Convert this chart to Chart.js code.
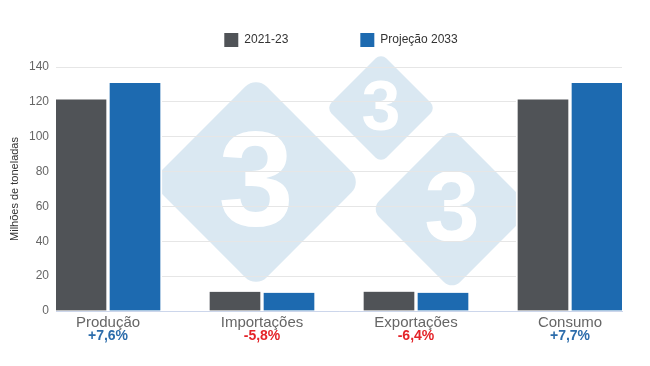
<!DOCTYPE html>
<html>
<head>
<meta charset="utf-8">
<script src="https://cdn.jsdelivr.net/npm/chart.js@4"></script>
<style>
  html, body { margin: 0; padding: 0; background: #fff; }
  #wrap { width: 650px; height: 366px; }
</style>
</head>
<body>
<div id="wrap"><canvas id="chart"></canvas></div>
<script>
const categories = ['Produção', 'Importações', 'Exportações', 'Consumo'];
const base = [121.4, 11.0, 11.1, 121.4];
const projection = [130.8, 10.4, 10.4, 130.8];
const changes = ['+7,6%', '-5,8%', '-6,4%', '+7,7%'];
const seriesNames = ['2021-23', 'Projeção 2033'];
const yTicks = [0, 20, 40, 60, 80, 100, 120, 140];

const GRAY = '#505357';
const BLUE = '#1d6ab0';
const FONT = '"Liberation Sans", Arial, sans-serif';

// logo watermark behind the grid
const watermark = {
  id: 'watermark',
  beforeDraw(chart) {
    const ctx = chart.ctx;
    ctx.save();
    ctx.fillStyle = '#fff';
    ctx.fillRect(0, 0, chart.width, chart.height);
    const marks = [
      { x: 256, y: 182, r: 106, font: 136 },
      { x: 381, y: 108, r: 55, font: 70 },
      { x: 452, y: 209, r: 81, font: 100 }
    ];
    marks.forEach(m => {
      const s = m.r * Math.SQRT2;
      ctx.save();
      ctx.translate(m.x, m.y);
      ctx.rotate(Math.PI / 4);
      ctx.fillStyle = '#dae8f2';
      ctx.beginPath();
      ctx.roundRect(-s / 2, -s / 2, s, s, s * 0.1);
      ctx.fill();
      ctx.restore();
      ctx.fillStyle = '#fff';
      ctx.font = 'bold ' + m.font + 'px ' + FONT;
      ctx.textAlign = 'center';
      ctx.textBaseline = 'middle';
      ctx.fillText('3', m.x, m.y + m.font * 0.04);
    });
    ctx.restore();
  }
};

// coloured change labels under each category
const changeLabels = {
  id: 'changeLabels',
  afterDraw(chart) {
    const ctx = chart.ctx;
    const xs = chart.scales.x;
    ctx.save();
    ctx.font = 'bold 14px ' + FONT;
    ctx.textAlign = 'center';
    ctx.textBaseline = 'middle';
    changes.forEach((txt, i) => {
      ctx.fillStyle = txt.startsWith('-') ? '#e42429' : '#2c6cab';
      ctx.fillText(txt, xs.getPixelForValue(i), 336);
    });
    ctx.restore();
  }
};

// legend: wide item gap but fixed block height, then nudged into place
const legendPlace = {
  id: 'legendPlace',
  beforeLayout(chart) {
    const lg = chart.legend;
    if (lg && !lg._fixed) {
      const fit = lg.fit.bind(lg);
      lg.fit = function () { fit(); this.height = 67; };
      lg._fixed = true;
    }
  },
  afterLayout(chart) {
    const lg = chart.legend;
    const pad = lg.options.labels.padding;
    lg.top = 33 - pad;
    lg.left += 30;
    lg.right += 30;
  }
};

const toPoints = arr => arr.map((v, i) => ({ x: i, y: v }));

new Chart(document.getElementById('chart'), {
  type: 'bar',
  data: {
    datasets: [
      {
        label: seriesNames[0],
        data: toPoints(base),
        backgroundColor: GRAY,
        borderColor: '#fff',
        borderWidth: { left: 2, right: 2, top: 0, bottom: 0 },
        borderSkipped: false
      },
      {
        label: seriesNames[1],
        data: toPoints(projection),
        backgroundColor: BLUE,
        borderColor: '#fff',
        borderWidth: { left: 2, right: 2, top: 0, bottom: 0 },
        borderSkipped: false
      }
    ]
  },
  options: {
    responsive: true,
    maintainAspectRatio: false,
    animation: false,
    barThickness: 54,
    layout: { padding: { left: 0, right: 28, top: 0, bottom: 0 } },
    plugins: {
      legend: {
        position: 'top',
        labels: {
          boxWidth: 14,
          boxHeight: 14,
          padding: 72,
          color: '#333',
          font: { size: 12, family: FONT },
          generateLabels(chart) {
            return chart.data.datasets.map((ds, i) => ({
              text: ds.label,
              fillStyle: ds.backgroundColor,
              strokeStyle: ds.backgroundColor,
              lineWidth: 0,
              fontColor: '#333',
              datasetIndex: i
            }));
          }
        }
      },
      tooltip: { enabled: false }
    },
    scales: {
      x: {
        type: 'linear',
        offset: false,
        min: -0.3377,
        max: 3.3377,
        afterBuildTicks(scale) {
          scale.ticks = categories.map((c, i) => ({ value: i }));
        },
        afterFit(scale) {
          scale.height = 55;
        },
        grid: { display: false, drawTicks: false },
        border: { color: '#ccd6eb', width: 1 },
        ticks: {
          padding: 3,
          color: '#666',
          font: { size: 15, family: FONT },
          callback: v => categories[v]
        }
      },
      y: {
        min: 0,
        max: 140,
        afterBuildTicks(scale) {
          scale.ticks = yTicks.map(v => ({ value: v }));
        },
        afterFit(scale) {
          scale.width = 56;
        },
        grid: { color: '#e6e6e6', drawTicks: false },
        border: { display: false },
        ticks: {
          padding: 7,
          color: '#666',
          font: { size: 12, family: FONT }
        },
        title: {
          display: true,
          text: 'Milhões de toneladas',
          color: '#333',
          padding: { top: 8, bottom: 0 },
          font: { size: 11, family: FONT }
        }
      }
    }
  },
  plugins: [watermark, changeLabels, legendPlace]
});
</script>
</body>
</html>
